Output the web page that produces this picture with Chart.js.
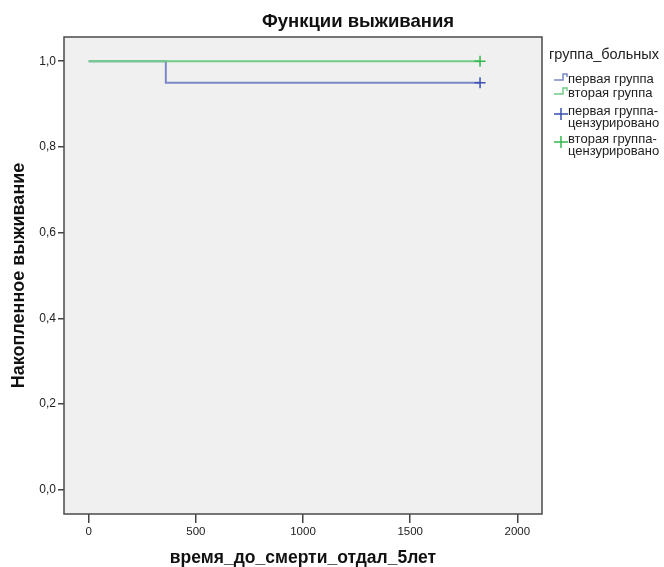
<!DOCTYPE html>
<html>
<head>
<meta charset="utf-8">
<script src="https://cdn.jsdelivr.net/npm/chart.js@4/dist/chart.umd.min.js"></script>
<style>
  html, body { margin: 0; padding: 0; background: #fff; }
  #wrap { width: 664px; height: 567px; }
</style>
</head>
<body>
<div id="wrap"><canvas id="km"></canvas></div>
<script>
// Kaplan-Meier curves (time in days, cumulative survival)
const group1Time = [0, 360, 1826];
const group1Surv = [1.0, 0.95, 0.95];
const group2Time = [0, 1826];
const group2Surv = [1.0, 1.0];
const censored1Time = [1826];
const censored1Surv = [0.95];
const censored2Time = [1826];
const censored2Surv = [1.0];

const xTicks = [0, 500, 1000, 1500, 2000];
const yTicks = [0, 0.2, 0.4, 0.6, 0.8, 1.0];

const chartTitle = "Функции выживания";
const xTitle = "время_до_смерти_отдал_5лет";
const yTitle = "Накопленное выживание";
const legendTitle = "группа_больных";
const seriesLabels = ["первая группа", "вторая группа", "первая группа-\nцензурировано", "вторая группа-\nцензурировано"];

const BLUE = "#7a88c6";
const GREEN = "#72cc88";
const BLUE_MARK = "#3a50b2";
const GREEN_MARK = "#32b84c";
const FONT = "'Liberation Sans', Arial, sans-serif";

function toPoints(xs, ys) {
  return xs.map((x, i) => ({ x, y: ys[i] }));
}

// background, frame, title and legend around the plot area
const framePlugin = {
  id: "frame",
  beforeDatasetsDraw(chart) {
    const { ctx, chartArea: a } = chart;
    ctx.save();
    ctx.fillStyle = "#f0f0f0";
    ctx.fillRect(a.left, a.top, a.right - a.left, a.bottom - a.top);
    ctx.restore();
  },
  afterDraw(chart) {
    const { ctx, chartArea: a } = chart;
    ctx.save();
    ctx.strokeStyle = "#4a4a4a";
    ctx.lineWidth = 1.5;
    ctx.strokeRect(a.left, a.top, a.right - a.left, a.bottom - a.top);

    ctx.fillStyle = "#111";
    ctx.font = "bold 18.5px " + FONT;
    ctx.textAlign = "center";
    ctx.textBaseline = "middle";
    ctx.fillText(chartTitle, 358, 22);

    // legend
    const lx = a.right + 12;
    ctx.textAlign = "left";
    ctx.font = "14.5px " + FONT;
    ctx.fillStyle = "#222";
    ctx.fillText(legendTitle, a.right + 7, 55);

    ctx.font = "13px " + FONT;
    const dsByLabel = {};
    chart.data.datasets.forEach((d) => (dsByLabel[d.label] = d));
    const rows = [
      { y: 80, text: 79 },
      { y: 94, text: 93 },
      { y: 114, text: 111 },
      { y: 142, text: 139 }
    ];
    seriesLabels.forEach((label, i) => {
      const d = dsByLabel[label];
      const r = rows[i];
      ctx.lineWidth = 1.5;
      ctx.strokeStyle = d.borderColor;
      ctx.beginPath();
      if (d.showLine !== false) {
        ctx.moveTo(lx, r.y);
        ctx.lineTo(lx + 9, r.y);
        ctx.lineTo(lx + 9, r.y - 6);
        ctx.lineTo(lx + 13, r.y - 6);
        ctx.lineTo(lx + 13, r.y - 3);
      } else {
        ctx.moveTo(lx, r.y);
        ctx.lineTo(lx + 14, r.y);
        ctx.moveTo(lx + 7, r.y - 6);
        ctx.lineTo(lx + 7, r.y + 6);
      }
      ctx.stroke();
      ctx.fillStyle = "#222";
      label.split("\n").forEach((line, j) => {
        ctx.fillText(line, lx + 14, r.text + j * 12);
      });
    });
    ctx.restore();
  }
};

new Chart(document.getElementById("km"), {
  type: "scatter",
  data: {
    datasets: [
      {
        label: seriesLabels[2],
        data: toPoints(censored1Time, censored1Surv),
        showLine: false,
        pointStyle: "cross",
        pointRadius: 5.5,
        pointBorderWidth: 1.5,
        borderColor: BLUE_MARK,
        backgroundColor: BLUE_MARK
      },
      {
        label: seriesLabels[3],
        data: toPoints(censored2Time, censored2Surv),
        showLine: false,
        pointStyle: "cross",
        pointRadius: 5.5,
        pointBorderWidth: 1.5,
        borderColor: GREEN_MARK,
        backgroundColor: GREEN_MARK
      },
      {
        label: seriesLabels[1],
        data: toPoints(group2Time, group2Surv),
        showLine: true,
        stepped: true,
        borderColor: GREEN,
        borderWidth: 2,
        pointRadius: 0
      },
      {
        label: seriesLabels[0],
        data: toPoints(group1Time, group1Surv),
        showLine: true,
        stepped: true,
        borderColor: BLUE,
        borderWidth: 2,
        pointRadius: 0
      }
    ]
  },
  options: {
    responsive: true,
    maintainAspectRatio: false,
    animation: false,
    layout: { padding: { top: 37, right: 122, left: 0, bottom: 0 } },
    plugins: {
      legend: { display: false },
      tooltip: { enabled: false }
    },
    scales: {
      x: {
        type: "linear",
        min: -115,
        max: 2115,
        afterBuildTicks: (axis) => { axis.ticks = xTicks.map((v) => ({ value: v })); },
        afterFit: (axis) => { axis.height = 53; },
        border: { display: false },
        grid: { drawOnChartArea: false, drawTicks: true, tickLength: 9, color: "#444", lineWidth: 1.5 },
        ticks: {
          color: "#222",
          padding: 2,
          font: { family: FONT, size: 11.5 },
          callback: (v) => String(v)
        },
        title: {
          display: true,
          text: xTitle,
          color: "#111",
          padding: { top: 0, bottom: 0 },
          font: { family: FONT, size: 17.5, weight: "bold", lineHeight: 1 }
        }
      },
      y: {
        type: "linear",
        min: -0.0565,
        max: 1.0565,
        afterBuildTicks: (axis) => { axis.ticks = yTicks.map((v) => ({ value: v })); },
        afterFit: (axis) => { axis.width = 64; },
        border: { display: false },
        grid: { drawOnChartArea: false, drawTicks: true, tickLength: 6, color: "#444", lineWidth: 1.5 },
        ticks: {
          color: "#222",
          padding: 2,
          font: { family: FONT, size: 12 },
          callback: (v) => v.toFixed(1).replace(".", ",")
        },
        title: {
          display: true,
          text: yTitle,
          color: "#111",
          padding: { top: 8, bottom: 0 },
          font: { family: FONT, size: 18, weight: "bold" }
        }
      }
    }
  },
  plugins: [framePlugin]
});
</script>
</body>
</html>
